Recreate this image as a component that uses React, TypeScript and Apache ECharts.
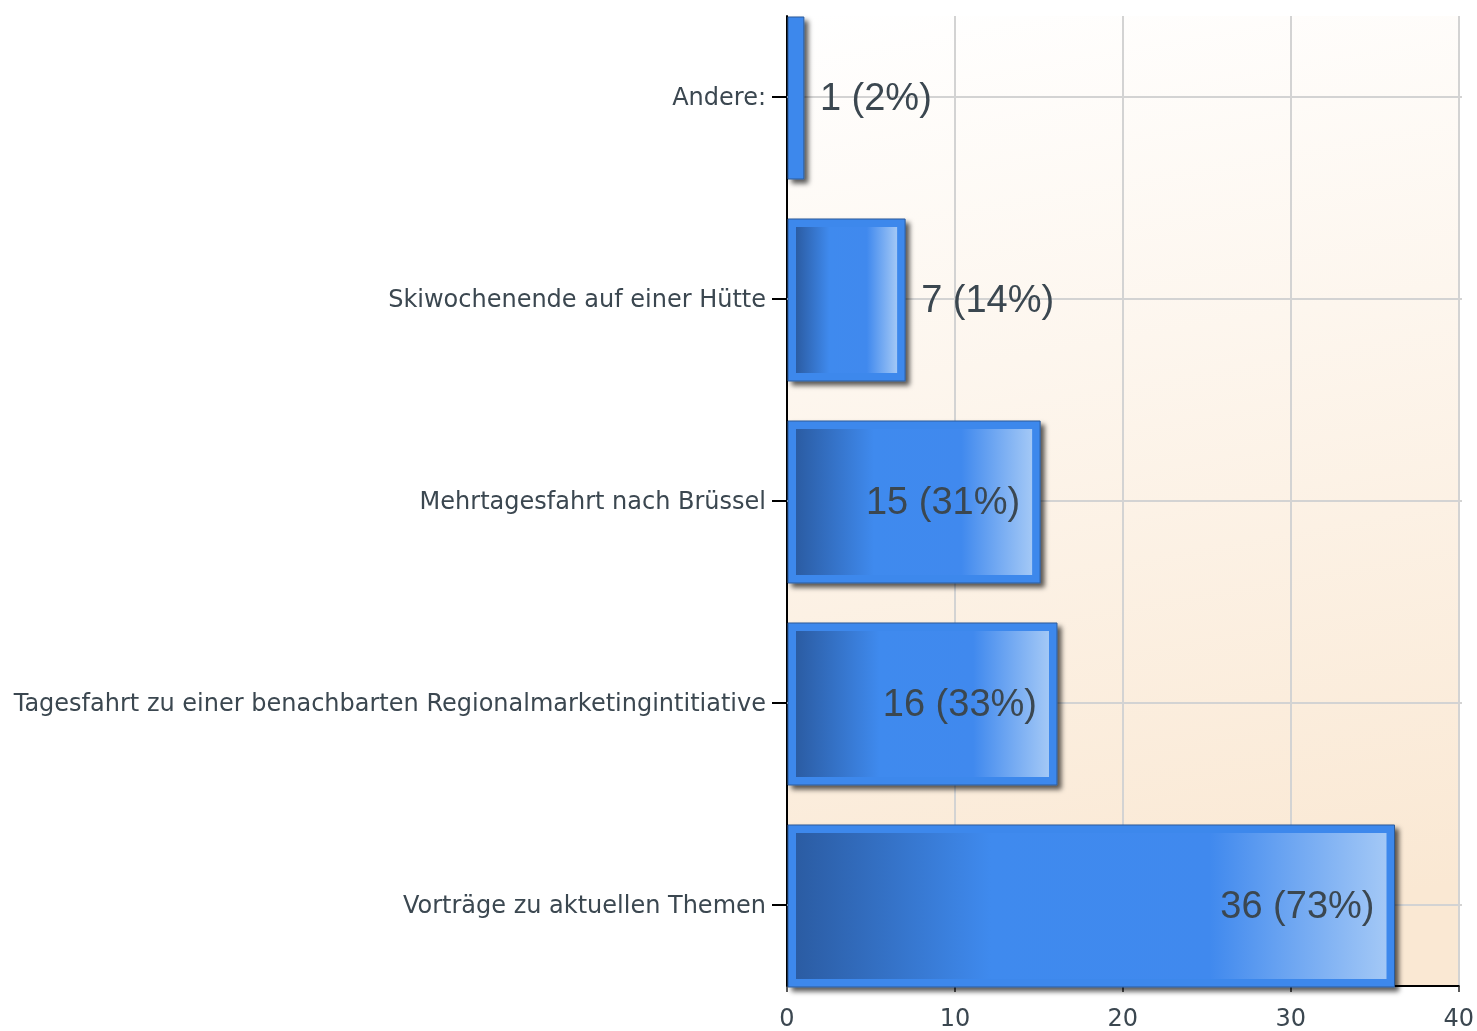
import React, { useEffect, useRef } from "react";
import * as echarts from "echarts";

const categories = [
  "Andere:",
  "Skiwochenende auf einer Hütte",
  "Mehrtagesfahrt nach Brüssel",
  "Tagesfahrt zu einer benachbarten Regionalmarketingintitiative",
  "Vorträge zu aktuellen Themen",
];
const counts = [1, 7, 15, 16, 36];
const percents = [2, 14, 31, 33, 73];
const xTicks = [0, 10, 20, 30, 40];

const BAR_RATIO = 0.802;
const TEXT_COLOR = "#3b4750";

export default function App() {
  const ref = useRef<HTMLDivElement>(null);
  useEffect(() => {
    if (!ref.current) return;
    const chart = echarts.init(ref.current, undefined, { renderer: "svg" });
    const innerGradient = new echarts.graphic.LinearGradient(0, 0, 1, 0, [
      { offset: 0, color: "#2b5ca3" },
      { offset: 0.33, color: "#3f8aee" },
      { offset: 0.7, color: "#4089ee" },
      { offset: 1, color: "#a3c8f6" },
    ]);
    const bgGradient = new echarts.graphic.LinearGradient(0, 0, 0.12, 1, [
      { offset: 0, color: "#ffffff" },
      { offset: 1, color: "#fae8d3" },
    ]);
    const option: any = {
      animation: false,
      grid: [
        {
          left: 787,
          right: 15,
          top: 20,
          bottom: 45,
          show: true,
          backgroundColor: bgGradient,
          borderWidth: 0,
        },
        { left: 787, right: 15, top: 0, bottom: 25, show: false },
      ],
      xAxis: [
        {
          gridIndex: 0,
          type: "value",
          min: xTicks[0],
          max: xTicks[xTicks.length - 1],
          interval: xTicks[1] - xTicks[0],
          axisLine: { show: true, onZero: false, lineStyle: { color: "#000", width: 2 } },
          axisTick: { show: true, length: 6, lineStyle: { color: "#222", width: 1.5 } },
          axisLabel: {
            margin: 20,
            fontSize: 24,
            fontFamily: "DejaVu Sans",
            color: TEXT_COLOR,
          },
          splitLine: { show: true, lineStyle: { color: "#d3d3d3", width: 2 } },
        },
        {
          gridIndex: 1,
          type: "value",
          min: xTicks[0],
          max: xTicks[xTicks.length - 1],
          show: false,
        },
      ],
      yAxis: [
        {
          gridIndex: 0,
          type: "value",
          min: 0,
          max: 1,
          axisLine: { show: true, onZero: false, lineStyle: { color: "#000", width: 2 } },
          axisTick: { show: false },
          axisLabel: { show: false },
          splitLine: { show: false },
        },
        {
          gridIndex: 1,
          type: "category",
          data: categories,
          inverse: true,
          axisLine: { show: false },
          axisTick: {
            show: true,
            alignWithLabel: true,
            length: 15,
            lineStyle: { color: "#000", width: 2 },
          },
          axisLabel: {
            margin: 21,
            fontSize: 24,
            fontFamily: "DejaVu Sans",
            color: TEXT_COLOR,
          },
          splitLine: { show: false },
        },
      ],
      series: [
        {
          type: "line",
          xAxisIndex: 1,
          yAxisIndex: 1,
          z: 1,
          symbol: "none",
          silent: true,
          lineStyle: { opacity: 0 },
          data: counts.map((v, i) => [v, i]),
          markLine: {
            silent: true,
            symbol: ["none", "none"],
            label: { show: false },
            lineStyle: { color: "#d3d3d3", width: 2, type: "solid" },
            data: categories.map((c) => ({ yAxis: c })),
          },
        },
        {
          type: "custom",
          xAxisIndex: 1,
          yAxisIndex: 1,
          z: 10,
          encode: { x: 0, y: 1 },
          data: counts.map((v, i) => [v, i]),
          renderItem: (params: any, api: any) => {
            const idx = api.value(1) as number;
            const v = api.value(0) as number;
            const p0 = api.coord([0, idx]);
            const p1 = api.coord([v, idx]);
            const band = (api.size([0, 1]) as number[])[1];
            const h = band * BAR_RATIO;
            const x = p0[0] + 1;
            const y = p0[1] - h / 2 + 1;
            const w = p1[0] - x;
            const inset = 8;
            const children: any[] = [
              {
                type: "rect",
                shape: { x, y, width: w, height: h },
                style: {
                  fill: "#3d88ec",
                  stroke: "#2c5a98",
                  lineWidth: 1,
                  shadowBlur: 5,
                  shadowOffsetX: 4,
                  shadowOffsetY: 4,
                  shadowColor: "rgba(0,0,0,0.65)",
                },
              },
            ];
            if (w > 2 * inset + 4) {
              children.push({
                type: "rect",
                shape: {
                  x: x + inset,
                  y: y + inset,
                  width: w - 2 * inset,
                  height: h - 2 * inset,
                },
                style: { fill: innerGradient },
              });
            }
            const inside = v >= 10;
            children.push({
              type: "text",
              x: inside ? p1[0] - 20 : p1[0] + 16,
              y: p1[1],
              style: {
                text: `${v} (${percents[idx]}%)`,
                fontSize: 38,
                fontFamily: "Liberation Sans, Arial",
                fill: TEXT_COLOR,
                align: inside ? "right" : "left",
                verticalAlign: "middle",
              },
            });
            return { type: "group", children };
          },
        },
      ],
    };
    chart.setOption(option);
    return () => chart.dispose();
  }, []);
  return (
    <div
      ref={ref}
      style={{ position: "fixed", left: 0, top: -4, width: 1477, height: 1035 }}
    />
  );
}
